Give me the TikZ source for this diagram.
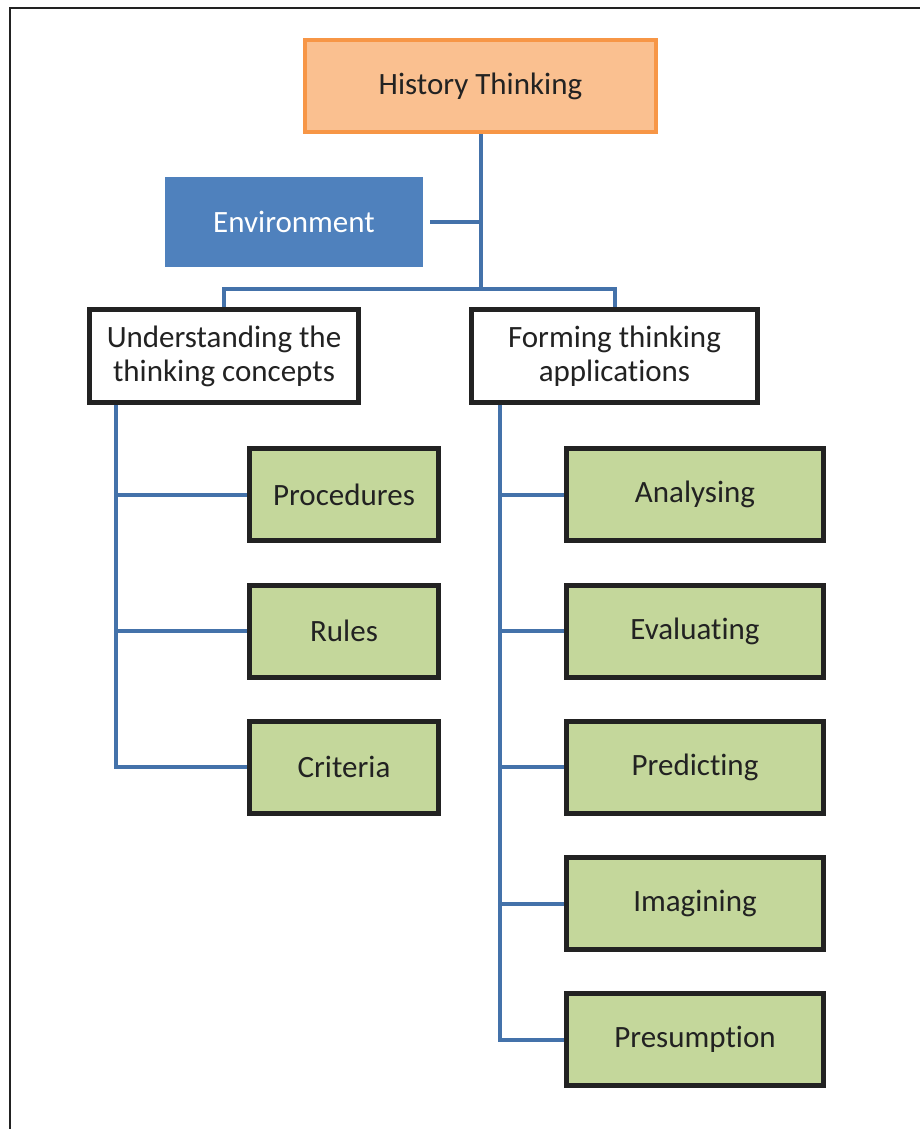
\documentclass[tikz,border=0pt]{standalone}
\usepackage{fontspec}
\setmainfont{Carlito}[Ligatures=NoCommon]
\usetikzlibrary{calc}
\definecolor{orfill}{HTML}{FAC090}
\definecolor{ordraw}{HTML}{F79646}
\definecolor{envblue}{HTML}{4F81BD}
\definecolor{linkblue}{HTML}{4472AA}
\definecolor{grfill}{HTML}{C4D79B}
\definecolor{txt}{HTML}{222222}
\begin{document}
\begin{tikzpicture}[x=1pt,y=-1pt,
  lbl/.style={align=center, inner sep=0pt, text=txt, font=\fontsize{31}{34}\selectfont},
  topbox/.style={lbl, draw=ordraw, fill=orfill, line width=4pt, minimum width=351pt, minimum height=92pt},
  envbox/.style={lbl, fill=envblue, text=white, minimum width=258pt, minimum height=90pt},
  midbox/.style={lbl, draw=txt, fill=white, line width=5pt, minimum height=93pt},
  leafbox/.style={lbl, draw=txt, fill=grfill, line width=5pt, minimum height=92pt},
  link/.style={draw=linkblue, line width=4pt},
  frame/.style={draw=txt, line width=2.5pt}
]
\useasboundingbox (0,0) rectangle (919,1129);
\draw[frame] (10,1135) -- (10,8) -- (925,8);

\node[topbox] (hist) at (480.5,86) {History Thinking};
\node[envbox] (env) at (294,222) {Environment};
\node[midbox, minimum width=269pt] (und) at (224,356) {Understanding the\\thinking concepts};
\node[midbox, minimum width=286pt] (form) at (614.5,356) {Forming thinking\\applications};

\node[leafbox, minimum width=189pt] (proc) at (344,494.5) {Procedures};
\node[leafbox, minimum width=189pt] (rules) at (344,631) {Rules};
\node[leafbox, minimum width=189pt] (crit) at (344,767) {Criteria};

\node[leafbox, minimum width=257pt] (anal) at (695,494.5) {Analysing};
\node[leafbox, minimum width=257pt] (eval) at (695,631) {Evaluating};
\node[leafbox, minimum width=257pt] (pred) at (695,767) {Predicting};
\node[leafbox, minimum width=257pt] (imag) at (695,903.5) {Imagining};
\node[leafbox, minimum width=257pt] (pres) at (695,1039.5) {Presumption};

\coordinate (bus) at (0,289);
\coordinate (lsp) at (116,0);
\coordinate (rsp) at (500,0);
\coordinate (envend) at ($(env.east)+(7,0)$);

\draw[link] (hist.south) -- (hist.south |- bus);
\draw[link] (envend) -- (envend -| hist.south);
\draw[link, line join=miter] (und.north) -- (und.north |- bus) -- (form.north |- bus) -- (form.north);

\draw[link, line join=miter] (lsp |- und.south) -- (lsp |- crit.west) -- (crit.west);
\draw[link] (lsp |- proc.west) -- (proc.west);
\draw[link] (lsp |- rules.west) -- (rules.west);

\draw[link, line join=miter] (rsp |- form.south) -- (rsp |- pres.west) -- (pres.west);
\draw[link] (rsp |- anal.west) -- (anal.west);
\draw[link] (rsp |- eval.west) -- (eval.west);
\draw[link] (rsp |- pred.west) -- (pred.west);
\draw[link] (rsp |- imag.west) -- (imag.west);
\end{tikzpicture}
\end{document}
